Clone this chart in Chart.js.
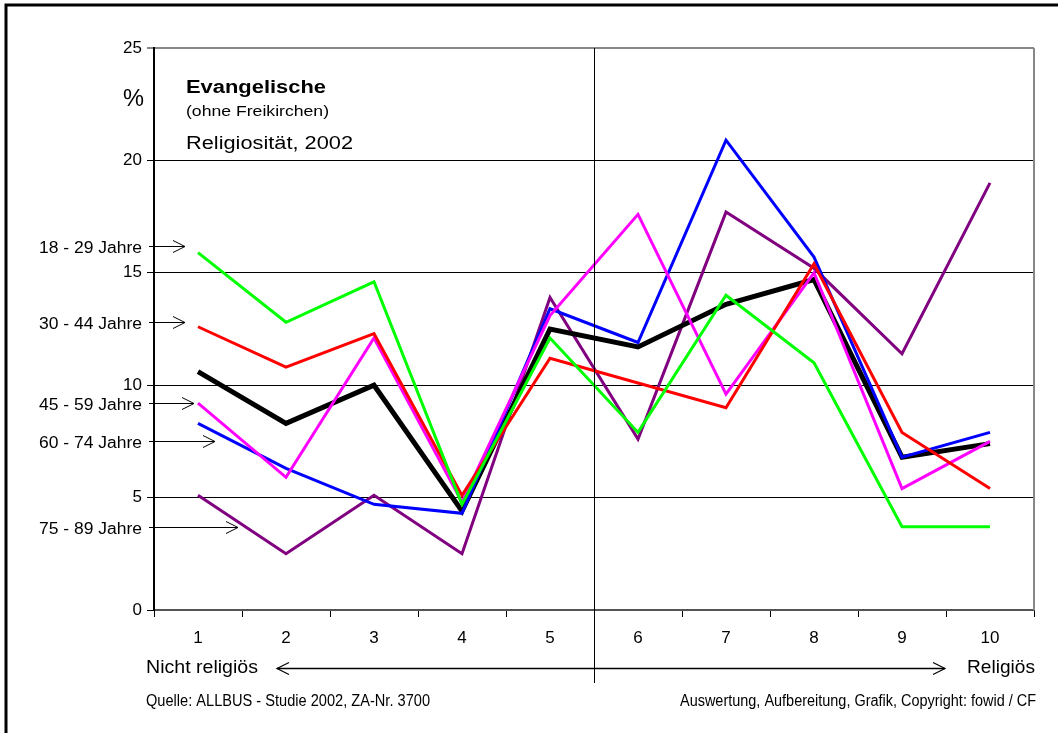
<!DOCTYPE html>
<html>
<head>
<meta charset="utf-8">
<script src="https://cdn.jsdelivr.net/npm/chart.js@4.4.0/dist/chart.umd.min.js"></script>
<style>
  body { margin: 0; background: #fff; }
  canvas { display: block; }
</style>
</head>
<body>
<canvas id="chart" width="1058" height="733"></canvas>
<script>
// Religiosität 1..10 (nicht religiös -> religiös)
var categories = ["1", "2", "3", "4", "5", "6", "7", "8", "9", "10"];
var yTicks = [0, 5, 10, 15, 20, 25];

// Anteile in % je Altersgruppe
var age18_29 = [15.9, 12.8, 14.6, 4.7, 12.1, 7.9, 14.0, 11.0, 3.7, 3.7];
var age30_44 = [12.6, 10.8, 12.3, 5.1, 11.2, 10.1, 9.0, 15.4, 7.9, 5.4];
var age45_59 = [9.2, 5.9, 12.1, 4.8, 13.1, 17.6, 9.6, 15.0, 5.4, 7.5];
var age60_74 = [8.3, 6.3, 4.7, 4.3, 13.4, 11.9, 20.9, 15.7, 6.8, 7.9];
var total = [10.6, 8.3, 10.0, 4.4, 12.5, 11.7, 13.6, 14.7, 6.8, 7.4];
var age75_89 = [5.1, 2.5, 5.1, 2.5, 13.9, 7.6, 17.7, 15.2, 11.4, 19.0];

// Beschriftungen links mit Pfeilen (Höhe in %, Pfeilspitze x)
var ageLabels = ["18 - 29 Jahre", "30 - 44 Jahre", "45 - 59 Jahre", "60 - 74 Jahre", "75 - 89 Jahre"];
var ageLabelLevels = [16.2, 12.8, 9.2, 7.5, 3.7];
var ageArrowTips = [185, 185, 194, 215, 238];

var FONT = '"Liberation Sans", Arial, sans-serif';

// Text mit Zielbreite (die Vorlage ist etwas breit gezogen)
function txt(ctx, s, x, y, font, align, width) {
  ctx.font = font;
  var w = ctx.measureText(s).width;
  var sx = width ? width / w : 1;
  var x0 = align === 'right' ? x - w * sx : x;
  ctx.save();
  ctx.translate(x0, y);
  ctx.scale(sx, 1);
  ctx.textAlign = 'left';
  ctx.textBaseline = 'alphabetic';
  ctx.fillText(s, 0, 0);
  ctx.restore();
}

function arrowHead(ctx, x, y, dir) {
  ctx.beginPath();
  ctx.moveTo(x - dir * 12, y - 6);
  ctx.lineTo(x, y);
  ctx.lineTo(x - dir * 12, y + 6);
  ctx.stroke();
}

var decorations = {
  id: 'decorations',
  beforeDatasetsDraw: function (chart) {
    var ctx = chart.ctx, a = chart.chartArea;
    ctx.save();
    // grauer Rahmen rechts
    ctx.strokeStyle = '#888';
    ctx.lineWidth = 2;
    ctx.beginPath();
    ctx.moveTo(a.right, a.top);
    ctx.lineTo(a.right, a.bottom);
    ctx.stroke();
    ctx.restore();
  },
  afterDraw: function (chart) {
    var ctx = chart.ctx, a = chart.chartArea;
    var xs = chart.scales.x, ys = chart.scales.y;
    ctx.save();
    // äußerer Rahmen
    ctx.strokeStyle = '#000';
    ctx.lineWidth = 3;
    ctx.beginPath();
    ctx.moveTo(6, 740);
    ctx.lineTo(6, 5);
    ctx.lineTo(1070, 5);
    ctx.stroke();

    // Trennlinie zwischen 5 und 6
    var midX = Math.round((xs.getPixelForValue(4) + xs.getPixelForValue(5)) / 2) + 0.5;
    ctx.lineWidth = 1;
    ctx.beginPath();
    ctx.moveTo(midX, a.top);
    ctx.lineTo(midX, 683);
    ctx.stroke();

    ctx.fillStyle = '#000';
    txt(ctx, 'Evangelische', 186, 93, 'bold 18px ' + FONT, 'left', 140);
    txt(ctx, '(ohne Freikirchen)', 186, 116, '14px ' + FONT, 'left', 143);
    txt(ctx, 'Religiosität, 2002', 186, 149, '18px ' + FONT, 'left', 167);
    txt(ctx, '%', 123, 106, '23px ' + FONT, 'left', 21);

    // Altersgruppen
    ctx.lineWidth = 1;
    for (var i = 0; i < ageLabels.length; i++) {
      var y = Math.round(ys.getPixelForValue(ageLabelLevels[i])) + 0.5;
      txt(ctx, ageLabels[i], 142, y + 6, '16px ' + FONT, 'right', 103);
      ctx.beginPath();
      ctx.moveTo(149, y);
      ctx.lineTo(ageArrowTips[i], y);
      ctx.stroke();
      arrowHead(ctx, ageArrowTips[i], y, 1);
    }

    // Achse nicht religiös <-> religiös
    txt(ctx, 'Nicht religiös', 146, 673, '19px ' + FONT, 'left', 112);
    txt(ctx, 'Religiös', 1035, 673, '19px ' + FONT, 'right', 68);
    ctx.lineWidth = 1.5;
    ctx.beginPath();
    ctx.moveTo(277, 668.5);
    ctx.lineTo(945, 668.5);
    ctx.stroke();
    ctx.lineWidth = 1.2;
    arrowHead(ctx, 277, 668.5, -1);
    arrowHead(ctx, 945, 668.5, 1);

    // Quellen
    txt(ctx, 'Quelle: ALLBUS - Studie 2002, ZA-Nr. 3700', 146, 706, '16px ' + FONT, 'left', 284);
    txt(ctx, 'Auswertung, Aufbereitung, Grafik, Copyright: fowid / CF', 1036, 706, '16px ' + FONT, 'right', 356);
    ctx.restore();
  }
};

function line(label, data, color, width) {
  return {
    label: label,
    data: data,
    borderColor: color,
    backgroundColor: color,
    borderWidth: width,
    pointRadius: 0,
    tension: 0,
    fill: false
  };
}

var ctxL = document.getElementById("chart").getContext('2d');
var myLineChart = new Chart(ctxL, {
  type: 'line',
  data: {
    labels: categories,
    datasets: [
      line("18 - 29 Jahre", age18_29, '#00ff00', 3),
      line("30 - 44 Jahre", age30_44, '#ff0000', 3),
      line("45 - 59 Jahre", age45_59, '#ff00ff', 3),
      line("60 - 74 Jahre", age60_74, '#0000ff', 3),
      line("Gesamt", total, '#000000', 5),
      line("75 - 89 Jahre", age75_89, '#800080', 3)
    ]
  },
  options: {
    responsive: false,
    animation: false,
    layout: { padding: { top: 48, right: 24, left: 0, bottom: 0 } },
    plugins: { legend: { display: false }, tooltip: { enabled: false } },
    scales: {
      x: {
        type: 'category',
        offset: true,
        afterFit: function (s) { s.height = 123; },
        grid: {
          offset: true,
          drawOnChartArea: false,
          drawTicks: true,
          tickLength: 7,
          color: '#000'
        },
        border: { color: '#555', width: 2 },
        ticks: {
          color: '#000',
          padding: 11,
          font: { family: FONT, size: 17 }
        }
      },
      y: {
        min: 0,
        max: 25,
        afterFit: function (s) { s.width = 154; },
        afterBuildTicks: function (s) {
          s.ticks = yTicks.map(function (v) { return { value: v }; });
        },
        grid: {
          color: function (c) { return c.tick && c.tick.value === 25 ? '#888' : '#000'; },
          lineWidth: function (c) { return c.tick && c.tick.value === 25 ? 2 : 1; },
          tickLength: 7
        },
        border: { color: '#000', width: 2 },
        ticks: {
          color: '#000',
          padding: 5,
          font: { family: FONT, size: 17 }
        }
      }
    }
  },
  plugins: [decorations]
});
</script>
</body>
</html>
